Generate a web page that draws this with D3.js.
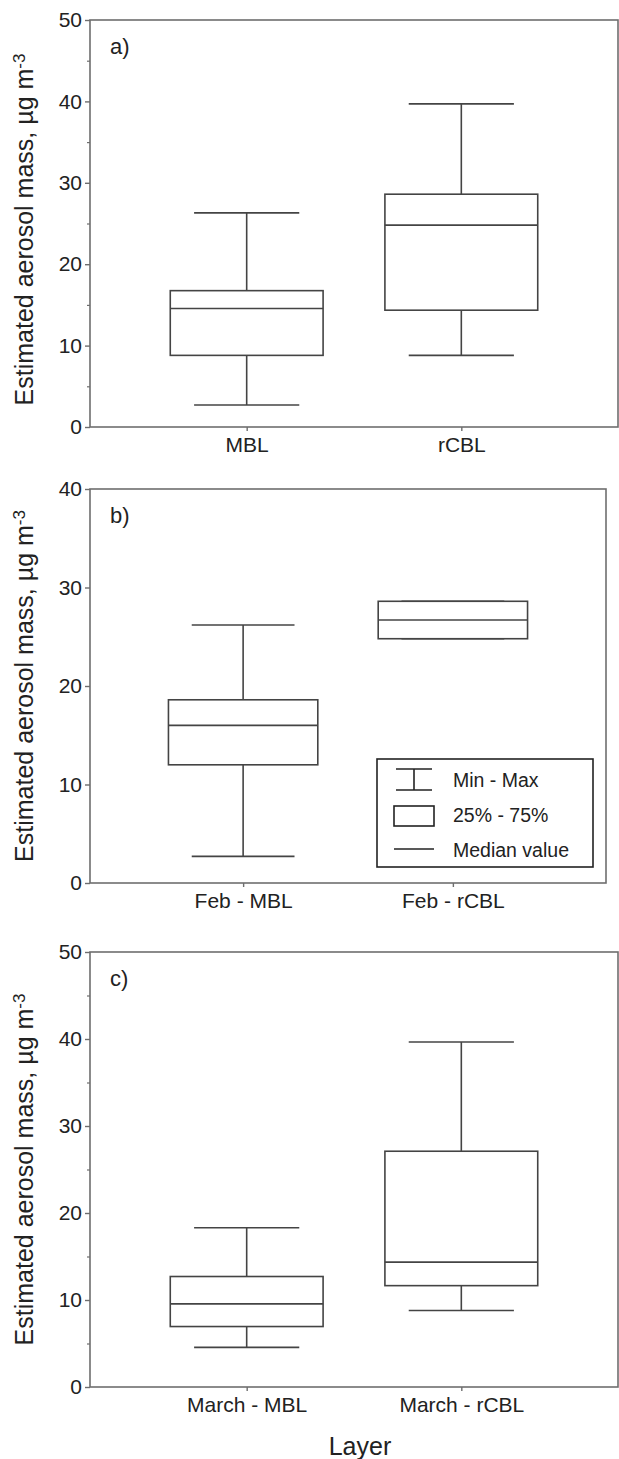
<!DOCTYPE html>
<html lang="en">
<head>
<meta charset="UTF-8">
<title>Estimated aerosol mass by layer</title>
<script src="https://d3js.org/d3.v7.min.js"></script>
<style>
  body { margin: 0; background: #fff; }
  svg text { font-family: "Liberation Sans", Arial, Helvetica, sans-serif; fill: #222; }
</style>
</head>
<body>
<script>
// panel a) whole campaign
var catsA = ["MBL", "rCBL"];
var minA = [2.7, 8.8];
var q1A = [8.8, 14.35];
var medA = [14.55, 24.8];
var q3A = [16.75, 28.6];
var maxA = [26.3, 39.7];
var ticksA = [0, 10, 20, 30, 40, 50];
var minorA = [5, 15, 25, 35, 45];

// panel b) February
var catsB = ["Feb - MBL", "Feb - rCBL"];
var minB = [2.7, 24.8];
var q1B = [12.0, 24.8];
var medB = [16.0, 26.7];
var q3B = [18.6, 28.6];
var maxB = [26.2, 28.6];
var ticksB = [0, 10, 20, 30, 40];
var minorB = [];

// panel c) March
var catsC = ["March - MBL", "March - rCBL"];
var minC = [4.55, 8.8];
var q1C = [6.95, 11.65];
var medC = [9.55, 14.35];
var q3C = [12.7, 27.1];
var maxC = [18.3, 39.65];
var ticksC = [0, 10, 20, 30, 40, 50];
var minorC = [5, 15, 25, 35, 45];

var legendLabels = ["Min - Max", "25% - 75%", "Median value"];

var W = 619, H = 1459;
var stroke = "#444";
var frameCol = "#6e6e6e";

var svg = d3.select("body").append("svg")
    .attr("width", W)
    .attr("height", H);

// one boxplot panel
function drawPanel(p) {
  var x = d3.scalePoint().domain(p.cats).range([p.left, p.right]).padding(0.73);
  var y = d3.scaleLinear().domain([0, d3.max(p.ticks)]).range([p.bottom, p.top]);
  var step = x.step();
  var boxHalf = step * 0.356, capHalf = step * 0.245;

  var g = svg.append("g");

  var rows = p.cats.map(function(c, i) {
    return {cat: c, min: p.min[i], q1: p.q1[i], med: p.med[i], q3: p.q3[i], max: p.max[i]};
  });

  // frame
  g.append("rect")
    .attr("x", p.left).attr("y", p.top)
    .attr("width", p.right - p.left).attr("height", p.bottom - p.top)
    .attr("fill", "none").attr("stroke", frameCol).attr("stroke-width", 1.6);

  // y axis
  var ya = g.append("g")
    .attr("transform", "translate(" + p.left + ",0)")
    .call(d3.axisLeft(y).tickValues(p.ticks).tickSize(5).tickPadding(3));
  ya.select(".domain").remove();
  ya.selectAll("line").attr("stroke", frameCol).attr("stroke-width", 1.4);
  ya.selectAll("text").style("font-size", "21px").attr("fill", "#222");

  if (p.minor.length) {
    var ym = g.append("g")
      .attr("transform", "translate(" + p.left + ",0)")
      .call(d3.axisLeft(y).tickValues(p.minor).tickSize(3).tickFormat(""));
    ym.select(".domain").remove();
    ym.selectAll("line").attr("stroke", frameCol).attr("stroke-width", 1.2);
  }

  // x axis
  var xa = g.append("g")
    .attr("transform", "translate(0," + p.bottom + ")")
    .call(d3.axisBottom(x).tickSize(4).tickPadding(6));
  xa.select(".domain").remove();
  xa.selectAll("line").attr("stroke", frameCol).attr("stroke-width", 1.4);
  xa.selectAll("text").style("font-size", "21px").attr("fill", "#222");

  // whiskers
  var box = g.selectAll(".box").data(rows).enter().append("g").attr("class", "box");
  box.append("line")
    .attr("x1", function(d) { return x(d.cat); }).attr("x2", function(d) { return x(d.cat); })
    .attr("y1", function(d) { return y(d.max); }).attr("y2", function(d) { return y(d.q3); });
  box.append("line")
    .attr("x1", function(d) { return x(d.cat); }).attr("x2", function(d) { return x(d.cat); })
    .attr("y1", function(d) { return y(d.q1); }).attr("y2", function(d) { return y(d.min); });
  box.append("line")
    .attr("x1", function(d) { return x(d.cat) - capHalf; }).attr("x2", function(d) { return x(d.cat) + capHalf; })
    .attr("y1", function(d) { return y(d.max); }).attr("y2", function(d) { return y(d.max); });
  box.append("line")
    .attr("x1", function(d) { return x(d.cat) - capHalf; }).attr("x2", function(d) { return x(d.cat) + capHalf; })
    .attr("y1", function(d) { return y(d.min); }).attr("y2", function(d) { return y(d.min); });
  // 25-75 box
  box.append("rect")
    .attr("x", function(d) { return x(d.cat) - boxHalf; })
    .attr("y", function(d) { return y(d.q3); })
    .attr("width", boxHalf * 2)
    .attr("height", function(d) { return y(d.q1) - y(d.q3); })
    .attr("fill", "#fff");
  // median
  box.append("line")
    .attr("x1", function(d) { return x(d.cat) - boxHalf; }).attr("x2", function(d) { return x(d.cat) + boxHalf; })
    .attr("y1", function(d) { return y(d.med); }).attr("y2", function(d) { return y(d.med); });
  box.selectAll("line, rect").attr("stroke", stroke).attr("stroke-width", 1.6);

  // panel letter
  g.append("text")
    .attr("x", p.left + 20).attr("y", p.top + 34)
    .style("font-size", "22px")
    .text(p.letter);

  // y label
  var yl = g.append("text")
    .attr("transform", "translate(33," + ((p.top + p.bottom) / 2 + p.labelShift) + ") rotate(-90)")
    .attr("text-anchor", "middle")
    .style("font-size", "25px");
  yl.append("tspan").text("Estimated aerosol mass, \u00b5g m");
  yl.append("tspan").attr("dy", "-0.45em").style("font-size", "17px").text("-3");

  return {x: x, y: y, g: g};
}

drawPanel({cats: catsA, min: minA, q1: q1A, med: medA, q3: q3A, max: maxA,
  ticks: ticksA, minor: minorA, left: 90, right: 618, top: 20, bottom: 427, letter: "a)", labelShift: 6});

var pb = drawPanel({cats: catsB, min: minB, q1: q1B, med: medB, q3: q3B, max: maxB,
  ticks: ticksB, minor: minorB, left: 90, right: 606, top: 489, bottom: 883, letter: "b)", labelShift: 0});

drawPanel({cats: catsC, min: minC, q1: q1C, med: medC, q3: q3C, max: maxC,
  ticks: ticksC, minor: minorC, left: 90, right: 618, top: 952, bottom: 1387, letter: "c)", labelShift: 0});

// legend in panel b
var lg = pb.g.append("g").attr("transform", "translate(377,759)");
lg.append("rect").attr("width", 216).attr("height", 108)
  .attr("fill", "#fff").attr("stroke", "#222").attr("stroke-width", 1.6);
var ic = lg.append("g").attr("stroke", "#222").attr("stroke-width", 1.6).attr("fill", "none");
ic.append("line").attr("x1", 19).attr("x2", 55).attr("y1", 10).attr("y2", 10);
ic.append("line").attr("x1", 19).attr("x2", 55).attr("y1", 31).attr("y2", 31);
ic.append("line").attr("x1", 37).attr("x2", 37).attr("y1", 10).attr("y2", 31);
ic.append("rect").attr("x", 17).attr("y", 47).attr("width", 40).attr("height", 20);
ic.append("line").attr("x1", 17).attr("x2", 57).attr("y1", 90).attr("y2", 90);
lg.selectAll(".lt").data(legendLabels).enter().append("text")
  .attr("class", "lt")
  .attr("x", 76)
  .attr("y", function(d, i) { return 28 + i * 35; })
  .style("font-size", "19.5px")
  .text(function(d) { return d; });

// shared x title
svg.append("text")
  .attr("x", 360).attr("y", 1455)
  .attr("text-anchor", "middle")
  .style("font-size", "25px")
  .text("Layer");
</script>
</body>
</html>
